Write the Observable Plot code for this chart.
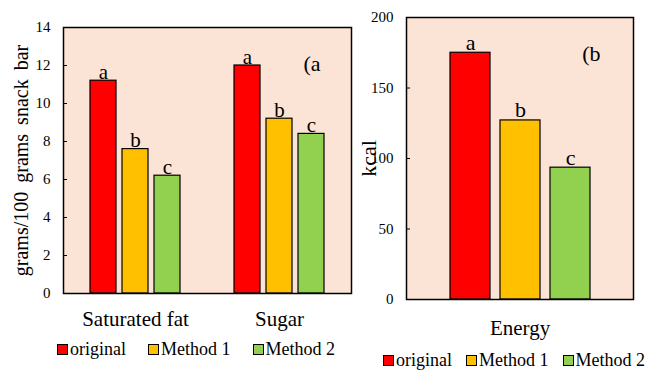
<!DOCTYPE html>
<html>
<head>
<meta charset="utf-8">
<script src="https://cdn.jsdelivr.net/npm/d3@7"></script>
<script src="https://cdn.jsdelivr.net/npm/@observablehq/plot@0.6"></script>
<style>
  body { margin: 0; background: #fff; }
  #wrap { position: relative; width: 651px; height: 370px; overflow: hidden; font-family: "Liberation Serif", serif; color: #000; }
  #left, #right { position: absolute; top: 0; }
  #left { left: 0; }
  #right { left: 355px; }
  .legend { position: absolute; display: flex; align-items: center; font-size: 18px; white-space: nowrap; font-family: "Liberation Serif", serif; }
  .legend .item { display: flex; align-items: center; }
  .legend .sw { width: 9px; height: 9px; border: 1px solid #000; margin-right: 2px; }
  svg text { font-family: "Liberation Serif", serif; }
</style>
</head>
<body>
<div id="wrap">
  <div id="left"></div>
  <div id="right"></div>
  <div class="legend" id="legL" style="left:57px; top:339px;"></div>
  <div class="legend" id="legR" style="left:383px; top:350px;"></div>
</div>
<script>
// ---- data ----
const categories = ["Saturated fat", "Sugar"];
const methods = ["original", "Method 1", "Method 2"];
const colors = ["#FF0000", "#FFC000", "#92D050"];
const saturatedFat = [11.2, 7.6, 6.2];
const sugar = [12.0, 9.2, 8.4];
const energyCategory = ["Energy"];
const energy = [175, 127, 93.5];
const letters = ["a", "b", "c"];
const leftTicks = [0, 2, 4, 6, 8, 10, 12, 14];
const rightTicks = [0, 50, 100, 150, 200];
const leftTitle = "grams/100 grams snack bar";
const rightTitle = "kcal";
const panelTags = ["(a", "(b"];

const bg = "#FBE3D6";

const leftData = categories.flatMap((c, i) =>
  methods.map((m, j) => ({cat: c, method: m, value: [saturatedFat, sugar][i][j], letter: letters[j]})));
const rightData = methods.map((m, j) => ({cat: energyCategory[0], method: m, value: energy[j], letter: letters[j]}));

const left = Plot.plot({
  width: 355, height: 330,
  marginLeft: 63, marginRight: 4, marginTop: 27, marginBottom: 37,
  style: {background: "transparent", color: "#000", fontFamily: "Liberation Serif", overflow: "visible"},
  fx: {domain: categories, padding: 0, label: null},
  x: {domain: methods, paddingInner: 0.1875, paddingOuter: 0.84, axis: null},
  y: {domain: [0, 14], label: null},
  color: {domain: methods, range: colors},
  marks: [
    Plot.frame({facet: "super", fill: bg, stroke: null}),
    Plot.barY(leftData, {fx: "cat", x: "method", y: "value", fill: "method", stroke: "#000", strokeWidth: 1.2}),
    Plot.text(leftData, {fx: "cat", x: "method", y: "value", text: "letter", lineAnchor: "bottom", dy: -2, fontSize: 21}),
    Plot.text(panelTags.slice(0, 1), {fx: ["Sugar"], text: d => d, frameAnchor: "top-right", textAnchor: "end", lineAnchor: "top", dx: -31, dy: 28, fontSize: 22}),
    Plot.axisY({ticks: leftTicks, tickSize: -4, tickPadding: 17, fontSize: 15, label: leftTitle, labelAnchor: "center", labelArrow: "none", labelOffset: 50}),
    Plot.axisFx({anchor: "bottom", tickSize: 0, tickPadding: 18, fontSize: 21, label: null}),
    Plot.frame({facet: "super", stroke: "#000", strokeWidth: 1.5})
  ]
});
document.getElementById("left").appendChild(left);

const right = Plot.plot({
  width: 296, height: 340,
  marginLeft: 51, marginRight: 18, marginTop: 17, marginBottom: 41,
  style: {background: "transparent", color: "#000", fontFamily: "Liberation Serif", overflow: "visible"},
  fx: {domain: energyCategory, padding: 0, label: null},
  x: {domain: methods, paddingInner: 0.2, paddingOuter: 0.87, axis: null},
  y: {domain: [0, 200], label: null},
  color: {domain: methods, range: colors},
  marks: [
    Plot.frame({fill: bg, stroke: null}),
    Plot.barY(rightData, {fx: "cat", x: "method", y: "value", fill: "method", stroke: "#000", strokeWidth: 1.2}),
    Plot.text(rightData, {fx: "cat", x: "method", y: "value", text: "letter", lineAnchor: "bottom", dy: -3, fontSize: 22}),
    Plot.text(panelTags.slice(1, 2), {text: d => d, frameAnchor: "top-right", textAnchor: "end", lineAnchor: "top", dx: -33, dy: 28, fontSize: 22}),
    Plot.axisY({ticks: rightTicks, tickSize: -4, tickPadding: 17, fontSize: 15, label: rightTitle, labelAnchor: "center", labelArrow: "none", labelOffset: 46}),
    Plot.axisFx({anchor: "bottom", tickSize: 0, tickPadding: 21, fontSize: 21, label: null}),
    Plot.frame({stroke: "#000", strokeWidth: 1.5})
  ]
});
document.getElementById("right").appendChild(right);

// y-axis titles font size / spacing
left.querySelectorAll("text").forEach(t => {
  if (t.textContent === leftTitle) { t.setAttribute("font-size", 20); t.style.wordSpacing = "4px"; }
});
right.querySelectorAll("text").forEach(t => {
  if (t.textContent === rightTitle) { t.setAttribute("font-size", 22); }
});

function legend(el, gapPx) {
  methods.forEach((m, j) => {
    const item = document.createElement("div");
    item.className = "item";
    if (j > 0) item.style.marginLeft = gapPx + "px";
    const sw = document.createElement("div");
    sw.className = "sw";
    sw.style.background = colors[j];
    const tx = document.createElement("span");
    tx.textContent = m;
    item.appendChild(sw); item.appendChild(tx);
    el.appendChild(item);
  });
}
legend(document.getElementById("legL"), 22);
legend(document.getElementById("legR"), 14);
</script>
</body>
</html>
